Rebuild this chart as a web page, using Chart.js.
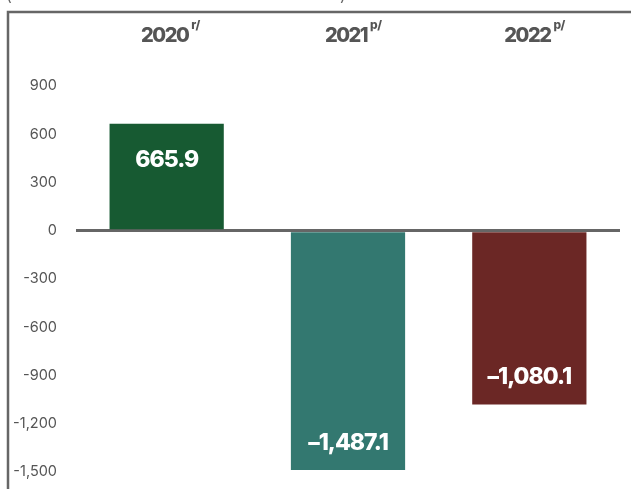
<!DOCTYPE html>
<html>
<head>
<meta charset="utf-8">
<script src="https://cdn.jsdelivr.net/npm/chart.js@4.4.1/dist/chart.umd.min.js"></script>
<style>
html,body{margin:0;padding:0;background:#fff;}
#wrap{width:631px;height:489px;position:relative;}
</style>
</head>
<body>
<div id="wrap"><canvas id="c" width="631" height="489"></canvas></div>
<script>
const categories = ['2020', '2021', '2022'];
const superscripts = ['r/', 'p/', 'p/'];
const values = [665.9, -1487.1, -1080.1];
const barColors = ['#175a32', '#337870', '#6b2725'];
const yMin = -1500, yMax = 900, yStep = 300;

const FONT = 'Inter, "Open Sans", sans-serif';

const framePlugin = {
  id: 'frame',
  beforeDraw(chart) {
    const ctx = chart.ctx;
    ctx.save();
    ctx.strokeStyle = '#666666';
    ctx.lineWidth = 2.5;
    ctx.beginPath();
    ctx.moveTo(640, 12);
    ctx.lineTo(8, 12);
    ctx.lineTo(8, 495);
    ctx.stroke();
    ctx.fillStyle = '#666666';
    ctx.font = '16px ' + FONT;
    ctx.textBaseline = 'alphabetic';
    ctx.textAlign = 'left';
    ctx.fillText('(', 6, 1);
    ctx.fillText(')', 340, 1);
    ctx.restore();
  }
};

const topLabelsPlugin = {
  id: 'topLabels',
  afterDraw(chart) {
    const ctx = chart.ctx;
    const xs = chart.scales.x;
    ctx.save();
    ctx.fillStyle = '#555555';
    ctx.textBaseline = 'alphabetic';
    categories.forEach((cat, i) => {
      const cx = xs.getPixelForValue(i) - 2;
      ctx.font = '800 20px ' + FONT;
      ctx.letterSpacing = '-1.5px';
      ctx.textAlign = 'center';
      const w = ctx.measureText(cat).width;
      ctx.fillText(cat, cx, 42);
      ctx.font = '800 12px ' + FONT;
      ctx.letterSpacing = '-0.5px';
      ctx.textAlign = 'left';
      ctx.fillText(superscripts[i], cx + w / 2 + 3, 29);
    });
    ctx.restore();
  }
};

const valueLabelsPlugin = {
  id: 'valueLabels',
  afterDatasetsDraw(chart) {
    const ctx = chart.ctx;
    const meta = chart.getDatasetMeta(0);
    ctx.save();
    ctx.fillStyle = '#ffffff';
    ctx.font = '800 23px ' + FONT;
    ctx.letterSpacing = '-1px';
    ctx.textAlign = 'center';
    ctx.textBaseline = 'middle';
    meta.data.forEach((el, i) => {
      const v = values[i];
      const txt = v.toLocaleString('en-US', {minimumFractionDigits: 1, maximumFractionDigits: 1}).replace('-', '\u2013');
      const y = v >= 0 ? el.y + 36 : el.y - 27;
      ctx.fillText(txt, el.x, y);
    });
    ctx.restore();
  }
};

new Chart(document.getElementById('c'), {
  type: 'bar',
  data: {
    labels: categories,
    datasets: [{
      data: values,
      backgroundColor: barColors,
      borderWidth: 0,
      barPercentage: 0.63,
      categoryPercentage: 1.0
    }]
  },
  options: {
    responsive: false,
    animation: false,
    devicePixelRatio: 1,
    layout: { padding: { left: 0, right: 11, top: 86, bottom: 17 } },
    plugins: { legend: { display: false }, tooltip: { enabled: false } },
    scales: {
      x: { display: false },
      y: {
        min: yMin,
        max: yMax,
        afterFit(scale) { scale.width = 76; },
        border: { display: false },
        grid: {
          drawTicks: true,
          tickLength: 19,
          tickColor: 'rgba(0,0,0,0)',
          lineWidth: (c) => (c.tick && c.tick.value === 0 ? 3 : 0),
          color: (c) => (c.tick && c.tick.value === 0 ? '#666666' : 'rgba(0,0,0,0)')
        },
        ticks: {
          stepSize: yStep,
          padding: 0,
          color: '#555555',
          font: { family: FONT, size: 14.5 }
        }
      }
    }
  },
  plugins: [framePlugin, topLabelsPlugin, valueLabelsPlugin]
});
</script>
</body>
</html>
